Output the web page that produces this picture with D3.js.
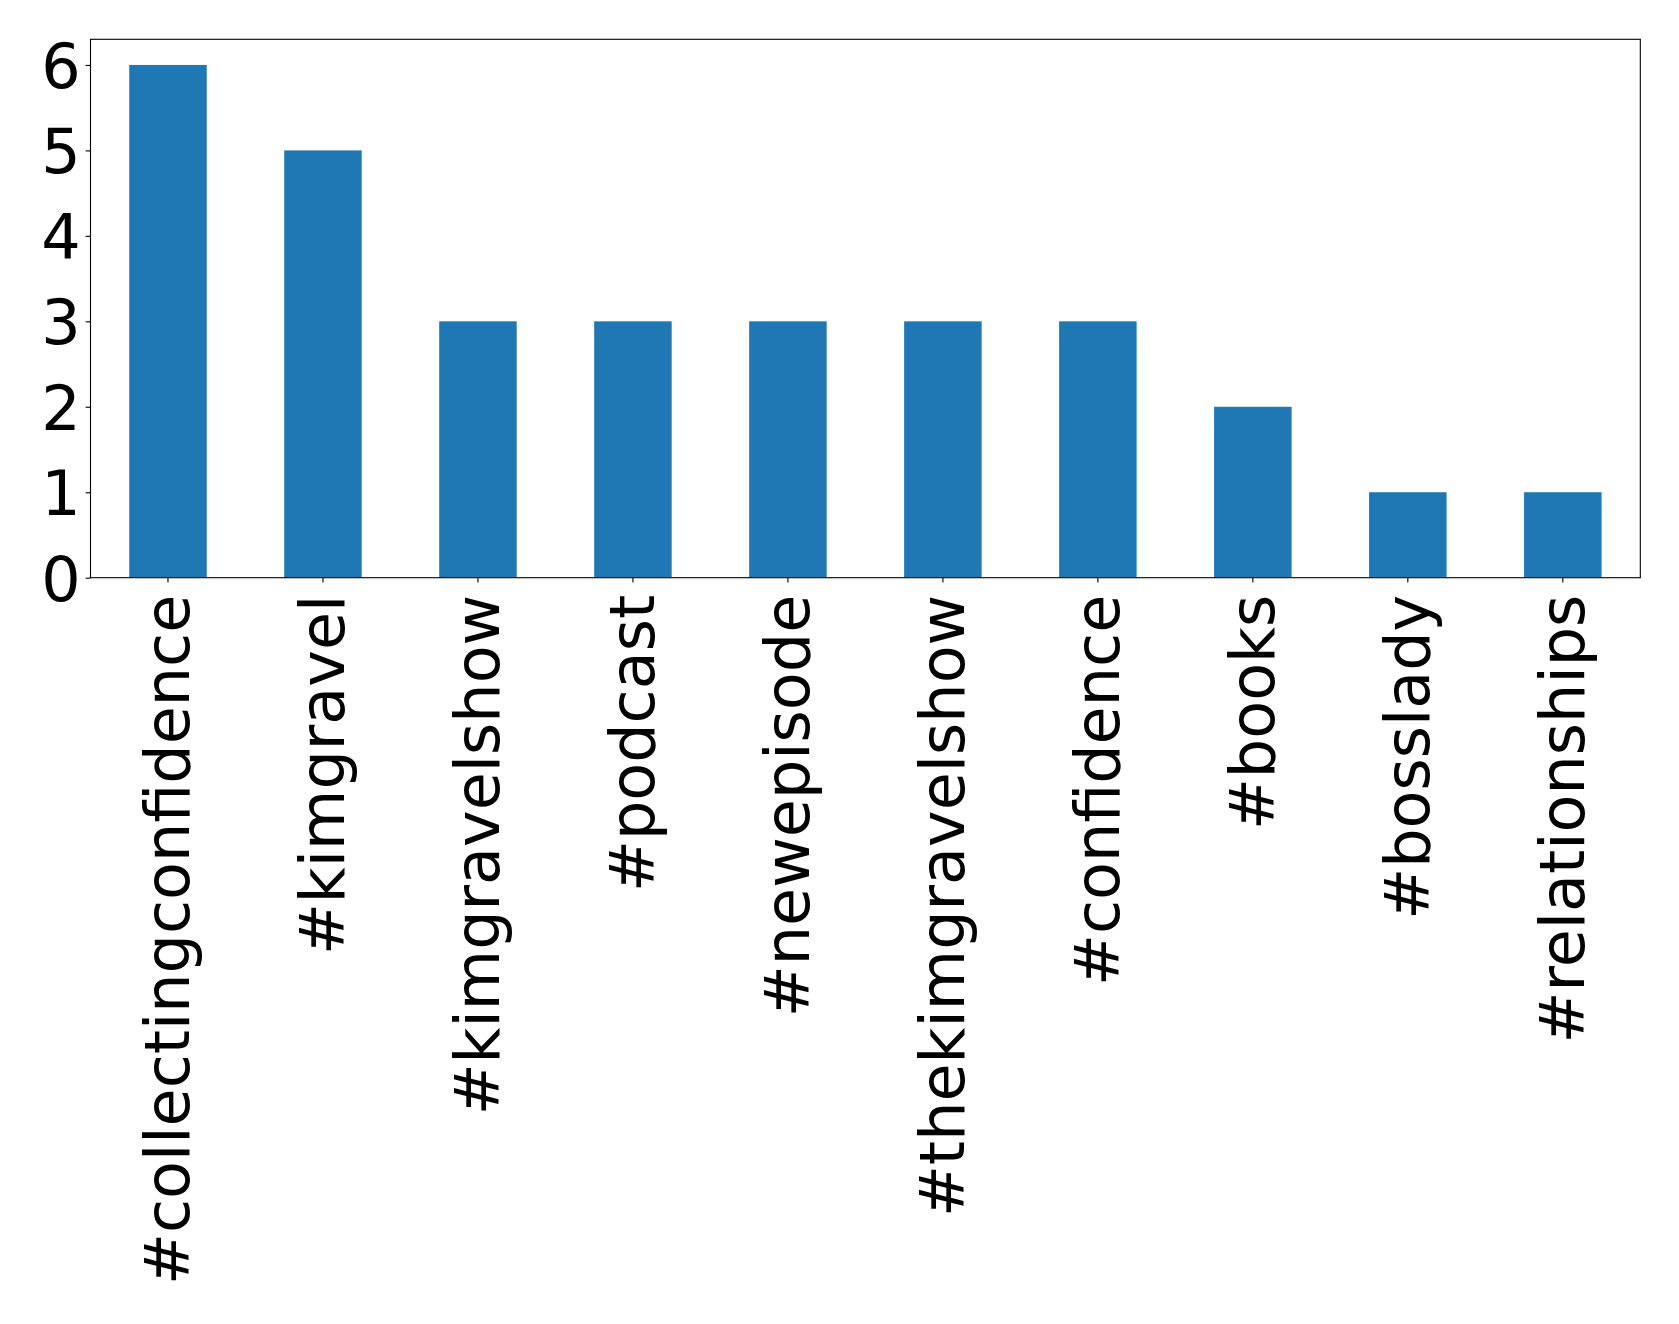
<!DOCTYPE html>
<html><head><meta charset="utf-8">
<script src="https://cdn.jsdelivr.net/npm/d3@7"></script>
<style>body{margin:0;background:#fff}svg{display:block}</style>
</head><body>
<svg id="chart" width="1679" height="1324"></svg>
<script>
const categories = ["#collectingconfidence","#kimgravel","#kimgravelshow","#podcast","#newepisode","#thekimgravelshow","#confidence","#books","#bosslady","#relationships"];
const values = [6,5,3,3,3,3,3,2,1,1];
const yTicks = [0,1,2,3,4,5,6];

const svg = d3.select("#chart");
const m = {left:90.5, right:1640.3, top:39.3, bottom:577.7};
const x = d3.scaleBand().domain(categories).range([m.left, m.right]).paddingInner(0.5).paddingOuter(0.25);
const y = d3.scaleLinear().domain([0, 6.3]).range([m.bottom, m.top]);
const font = "DejaVu Sans";
const fs = 62;

svg.append("g").selectAll("rect").data(values).join("rect")
  .attr("x", (d,i)=>x(categories[i]))
  .attr("width", x.bandwidth())
  .attr("y", d=>y(d))
  .attr("height", d=>y(0)-y(d))
  .attr("fill", "#1f77b4");

const yAxis = svg.append("g").attr("transform", `translate(${m.left},0)`)
  .call(d3.axisLeft(y).tickValues(yTicks).tickFormat(d3.format("d")).tickSize(4.86).tickPadding(4.86));
const xAxis = svg.append("g").attr("transform", `translate(0,${m.bottom})`)
  .call(d3.axisBottom(x).tickSize(4.86).tickPadding(0));
[yAxis, xAxis].forEach(a=>{
  a.select(".domain").remove();
  a.selectAll(".tick line").attr("stroke","#000").attr("stroke-width",1.1);
  a.selectAll("text").attr("font-family", font).attr("font-size", fs).attr("fill","#000");
});
yAxis.selectAll("text").attr("dy","0.36em");
xAxis.selectAll("text")
  .attr("text-anchor","end")
  .attr("dy", null)
  .attr("dominant-baseline","central")
  .attr("transform","translate(0,17) rotate(-90)")
  .attr("y",0).attr("x",0);

svg.append("rect").attr("x", m.left).attr("y", m.top)
  .attr("width", m.right-m.left).attr("height", m.bottom-m.top)
  .attr("fill","none").attr("stroke","#000").attr("stroke-width",1.1);
</script>
</body></html>
